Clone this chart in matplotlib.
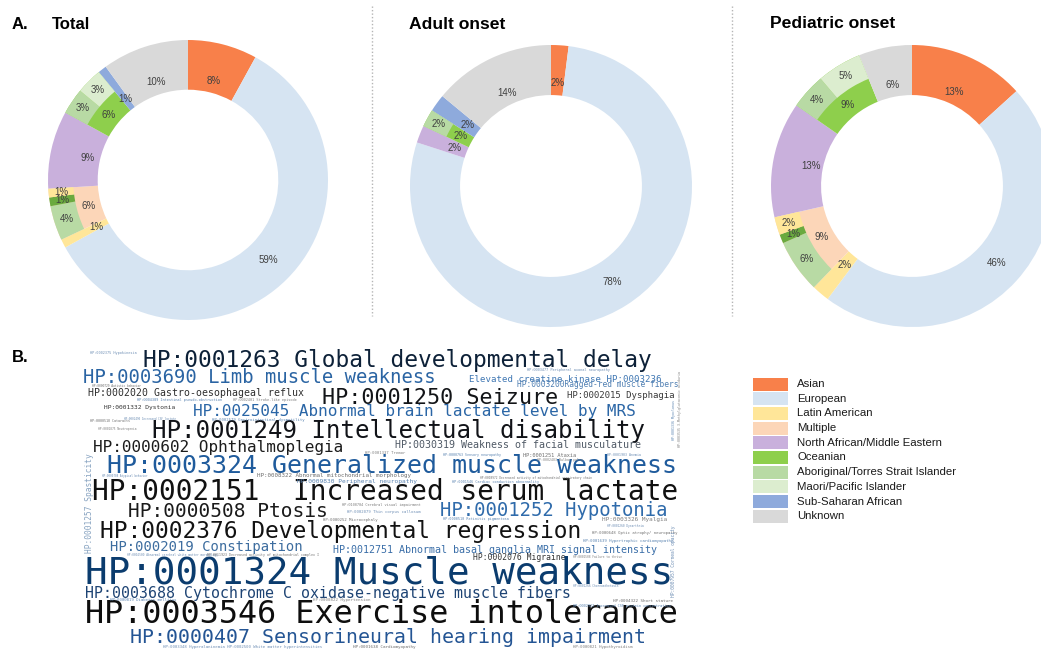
import matplotlib.pyplot as plt
from matplotlib.patches import Rectangle
import numpy as np

W, H = 1041, 651

# ---------------- Panel A data ----------------
legend_cats = ['Asian', 'European', 'Latin American', 'Multiple',
               'North African/Middle Eastern', 'Oceanian',
               'Aboriginal/Torres Strait Islander', 'Maori/Pacific Islander',
               'Sub-Saharan African', 'Unknown']

total_cats = ['Asian', 'European', 'Latin American', 'Multiple',
              'North African/Middle Eastern', 'Oceanian', 'Sub-Saharan African', 'Unknown']
total_vals = [8, 59, 1, 6, 9, 6, 1, 10]
total_split = {
    'Multiple': (['Aboriginal/Torres Strait Islander', 'Oceanian mixed', 'Latin American'], [4, 1, 1]),
    'Oceanian': (['Aboriginal/Torres Strait Islander', 'Maori/Pacific Islander'], [3, 3]),
}

adult_cats = ['Asian', 'European', 'North African/Middle Eastern', 'Oceanian',
              'Sub-Saharan African', 'Unknown']
adult_vals = [2, 78, 2, 2, 2, 14]
adult_split = {
    'Oceanian': (['Aboriginal/Torres Strait Islander'], [2]),
}

pediatric_cats = ['Asian', 'European', 'Latin American', 'Multiple',
                  'North African/Middle Eastern', 'Oceanian', 'Unknown']
pediatric_vals = [13, 46, 2, 9, 13, 9, 6]
pediatric_split = {
    'Multiple': (['Aboriginal/Torres Strait Islander', 'Oceanian mixed', 'Latin American'], [6, 1, 2]),
    'Oceanian': (['Aboriginal/Torres Strait Islander', 'Maori/Pacific Islander'], [4, 5]),
}

colors = {
    'Asian': '#f8804a',
    'European': '#d6e4f2',
    'Latin American': '#ffe699',
    'Multiple': '#fcd6b8',
    'North African/Middle Eastern': '#c9b0dc',
    'Oceanian': '#8ecf4c',
    'Oceanian mixed': '#6aaa3f',
    'Aboriginal/Torres Strait Islander': '#b8daa4',
    'Maori/Pacific Islander': '#dcedcf',
    'Sub-Saharan African': '#8eaadc',
    'Unknown': '#d9d9d9',
}

# ---------------- Panel B data (word cloud) ----------------
phrases = [
    'HP:0001263 Global developmental delay',
    'HP:0003690 Limb muscle weakness',
    'Elevated creatine kinase HP:0003236',
    'HP:0003200Ragged-red muscle fibers',
    'HP:0002020 Gastro-oesophageal reflux',
    'HP:0001250 Seizure',
    'HP:0002015 Dysphagia',
    'HP:0001332 Dystonia',
    'HP:0025045 Abnormal brain lactate level by MRS',
    'HP:0001249 Intellectual disability',
    'HP:0000602 Ophthalmoplegia',
    'HP:0030319 Weakness of facial musculature',
    'HP:0003324 Generalized muscle weakness',
    'HP:0002151  Increased serum lactate',
    'HP:0000508 Ptosis',
    'HP:0001252 Hypotonia',
    'HP:0002376 Developmental regression',
    'HP:0002019 Constipation',
    'HP:0012751 Abnormal basal ganglia MRI signal intensity',
    'HP:0002076 Migraine',
    'HP:0001324 Muscle weakness',
    'HP:0003688 Cytochrome C oxidase-negative muscle fibers',
    'HP:0003546 Exercise intolerance',
    'HP:0000407 Sensorineural hearing impairment',
    'HP:0001257 Spasticity',
    'HP:0002375 Hypokinesia',
    'HP:0000729 Autistic behavior',
    'HP:0004389 Intestinal pseudo-obstruction',
    'HP:0002401 Stroke-like episode',
    'HP:0002490 Increased CSF lactate',
    'HP:0000518 Cataracts',
    'HP:0002579 Gastrointestinal dysmotility',
    'HP:0001875 Neutropenia',
    'HP:0000708 Atypical behavior',
    'HP:0008322 Abnormal mitochondrial morphology',
    'HP:0009830 Peripheral neuropathy',
    'HP:0001337 Tremor',
    'HP:0003477 Peripheral axonal neuropathy',
    'HP:0001251 Ataxia',
    'HP:0000763 Sensory neuropathy',
    'HP:0002483 Bulbar palsy',
    'HP:0001903 Anemia',
    'HP:0008972 Decreased activity of mitochondrial respiratory chain',
    'HP:0001546 Cardiac conduction abnormality',
    'HP:0100704 Cerebral visual impairment',
    'HP:0002079 Thin corpus callosum',
    'HP:0000252 Microcephaly',
    'HP:0000510 Retinitis pigmentosa',
    'HP:0003326 Myalgia',
    'HP:0001260 Dysarthria',
    'HP:0000648 Optic atrophy/ neuropathy',
    'HP:0001639 Hypertrophic cardiomyopathy',
    'HP:0001508 Failure to thrive',
    'HP:0001266 Choreoathetosis',
    'HP:0004322 Short stature',
    'HP:0002922 Increased CSF protein concentration',
    'HP:0000821 Hypothyroidism',
    'HP:0002500 Abnormal cerebral white matter morphology',
    'HP:0011923 Decreased activity of mitochondrial complex I',
    'HP:0000819 Diabetes mellitus',
    'HP:0000822 Hypertension',
    'HP:0003348 Hyperalaninemia HP:0002500 White matter hyperintensities',
    'HP:0001638 Cardiomyopathy',
    'HP:0001336 Myoclonus',
    'HP:0003535 3-Methylglutaconic aciduria',
    'HP:0007957 Corneal opacity',
]
# relative weight of each phrase (drawn as font size, pt)
phrase_weights = [16.5, 13.6, 6.6, 5.7, 7.1, 15.7, 6.5, 4.5, 11.5, 17.4, 11.5, 7.2,
                  17.9, 20.0, 14.0, 13.6, 16.5, 10.0, 7.2, 5.8, 27.0, 10.7, 22.9, 14.3,
                  5.7, 2.5, 2.2, 2.6, 2.6, 2.0, 2.4, 2.8, 2.2, 2.0, 4.2, 4.5, 2.8, 2.6,
                  3.8, 2.4, 2.3, 2.3, 2.1, 2.5, 2.6, 2.8, 2.8, 2.5, 4.3, 2.2, 2.8, 2.9,
                  2.2, 2.2, 3.1, 2.6, 2.9, 2.1, 2.3, 2.9, 3.0, 2.9, 3.1, 2.3, 2.3, 3.3]

# layout of the cloud: (left x px, baseline y px, rotation)
phrase_layout = [
    (143, 367, 0), (83, 383, 0), (469, 382, 0), (517, 387, 0), (88, 396, 0),
    (322, 404, 0), (567, 398, 0), (104, 409, 0), (193, 416, 0), (152, 438, 0),
    (93, 452, 0), (395, 448, 0), (107, 473, 0), (92, 500, 0), (128, 517, 0),
    (440, 516, 0), (100, 538, 0), (110, 551, 0), (333, 553, 0), (473, 560.5, 0),
    (85, 583, 0), (85, 598, 0), (85, 623, 0), (130, 643, 0), (90, 553, 90),
    (90, 354, 0), (92, 387, 0), (137, 401, 0), (233, 401, 0), (124, 419.5, 0),
    (90, 421.5, 0), (212, 421, 0), (98, 430, 0), (102, 477.5, 0), (257, 477.5, 0),
    (297, 482.5, 0), (365, 454, 0), (527, 371, 0), (523, 457, 0), (443, 456, 0),
    (537, 461, 0), (607, 456, 0), (480, 478.5, 0), (452, 483, 0), (342, 506, 0),
    (347, 513, 0), (323, 520.5, 0), (443, 520, 0), (602, 521.5, 0), (607, 527, 0),
    (592, 534, 0), (583, 542, 0), (573, 558, 0), (573, 587, 0), (613, 602, 0),
    (573, 607, 0), (573, 648, 0), (127, 556, 0), (207, 556, 0), (110, 601, 0),
    (313, 601, 0), (163, 648, 0), (353, 648, 0), (674, 440, 90), (680, 447, 90),
    (674, 597, 90),
]
phrase_colors = [
    '#0d2138', '#2a64a3', '#3f77b3', '#4f7fb2', '#2e2e2e', '#121417', '#3a3a3a',
    '#333333', '#2b66a6', '#111318', '#1c1c1c', '#505a66', '#1f5b9c', '#111111',
    '#1a1a1a', '#2f6bab', '#121212', '#3d6d9f', '#3a6ea8', '#333333', '#0b3c6e',
    '#1e4474', '#0e0e0e', '#245594', '#86a2c0',
] + ['#6f8fb5', '#707070', '#5b84b1', '#808080'] * 11

# ---------------- figure ----------------
fig = plt.figure(figsize=(W / 100, H / 100), dpi=100)
ov = fig.add_axes([0, 0, 1, 1])
ov.set_xlim(0, W)
ov.set_ylim(H, 0)
ov.axis('off')

sans = 'Liberation Sans'

# panel titles
ov.text(12, 29, 'A.', fontsize=12, fontweight='bold', family=sans)
ov.text(52, 29, 'Total', fontsize=12, fontweight='bold', family=sans)
ov.text(409, 29, 'Adult onset', fontsize=12.6, fontweight='bold', family=sans)
ov.text(770, 28, 'Pediatric onset', fontsize=12.6, fontweight='bold', family=sans)
ov.text(12, 362, 'B.', fontsize=12, fontweight='bold', family=sans)

# dotted separators
for xs in (372, 732):
    ov.plot([xs, xs], [6, 316], color='#b5b5b5', lw=1, ls=(0, (1, 1.5)))

R_IN = 0.645
R_SPLIT = 0.82


def draw_donut(cx, cy, R, cats, vals, split):
    ax = fig.add_axes([(cx - R) / W, (H - cy - R) / H, 2 * R / W, 2 * R / H])
    wedges, _ = ax.pie(vals, radius=1.0, startangle=90, counterclock=False,
                       colors=[colors[c] for c in cats],
                       wedgeprops=dict(width=1 - R_IN, linewidth=0))
    outer_vals, outer_cols, outer_lab = [], [], []
    for c, v in zip(cats, vals):
        if c in split:
            sc, sv = split[c]
            outer_vals += sv
            outer_cols += [colors[s] for s in sc]
            outer_lab += [True] * len(sv)
        else:
            outer_vals.append(v)
            outer_cols.append('none')
            outer_lab.append(False)
    owedges, _ = ax.pie(outer_vals, radius=1.0, startangle=90, counterclock=False,
                        colors=outer_cols, wedgeprops=dict(width=1 - R_SPLIT, linewidth=0))
    vmax = max(vals)
    for w, v in zip(wedges, vals):
        a = np.deg2rad((w.theta1 + w.theta2) / 2)
        r = 0.81 if v == vmax else (R_IN + R_SPLIT) / 2
        ax.text(r * np.cos(a), r * np.sin(a), f'{v}%', ha='center', va='center',
                fontsize=7, color='#404040', family=sans)
    for w, v, lab in zip(owedges, outer_vals, outer_lab):
        if not lab:
            continue
        a = np.deg2rad((w.theta1 + w.theta2) / 2)
        r = (R_SPLIT + 1) / 2
        ax.text(r * np.cos(a), r * np.sin(a), f'{v}%', ha='center', va='center',
                fontsize=7, color='#404040', family=sans)
    ax.set_xlim(-1, 1)
    ax.set_ylim(-1, 1)
    ax.axis('off')


draw_donut(188, 180, 140, total_cats, total_vals, total_split)
draw_donut(551, 186, 141, adult_cats, adult_vals, adult_split)
draw_donut(912, 186, 141, pediatric_cats, pediatric_vals, pediatric_split)

# word cloud
for txt, size, (x, y, rot), col in zip(phrases, phrase_weights, phrase_layout, phrase_colors):
    if rot:
        ov.text(x, y, txt, fontsize=size, color=col, family='DejaVu Sans Mono',
                rotation=90, ha='center', va='bottom')
    else:
        ov.text(x, y, txt, fontsize=size, color=col, family='DejaVu Sans Mono',
                ha='left', va='baseline')

# legend
for i, c in enumerate(legend_cats):
    yc = 384 + i * 14.7
    ov.add_patch(Rectangle((753, yc - 6.5), 35, 13, facecolor=colors[c], edgecolor='none'))
    ov.text(797, yc, c, fontsize=8.2, va='center', ha='left', family=sans, color='#1a1a1a')

fig.savefig('out.png', dpi=100)
